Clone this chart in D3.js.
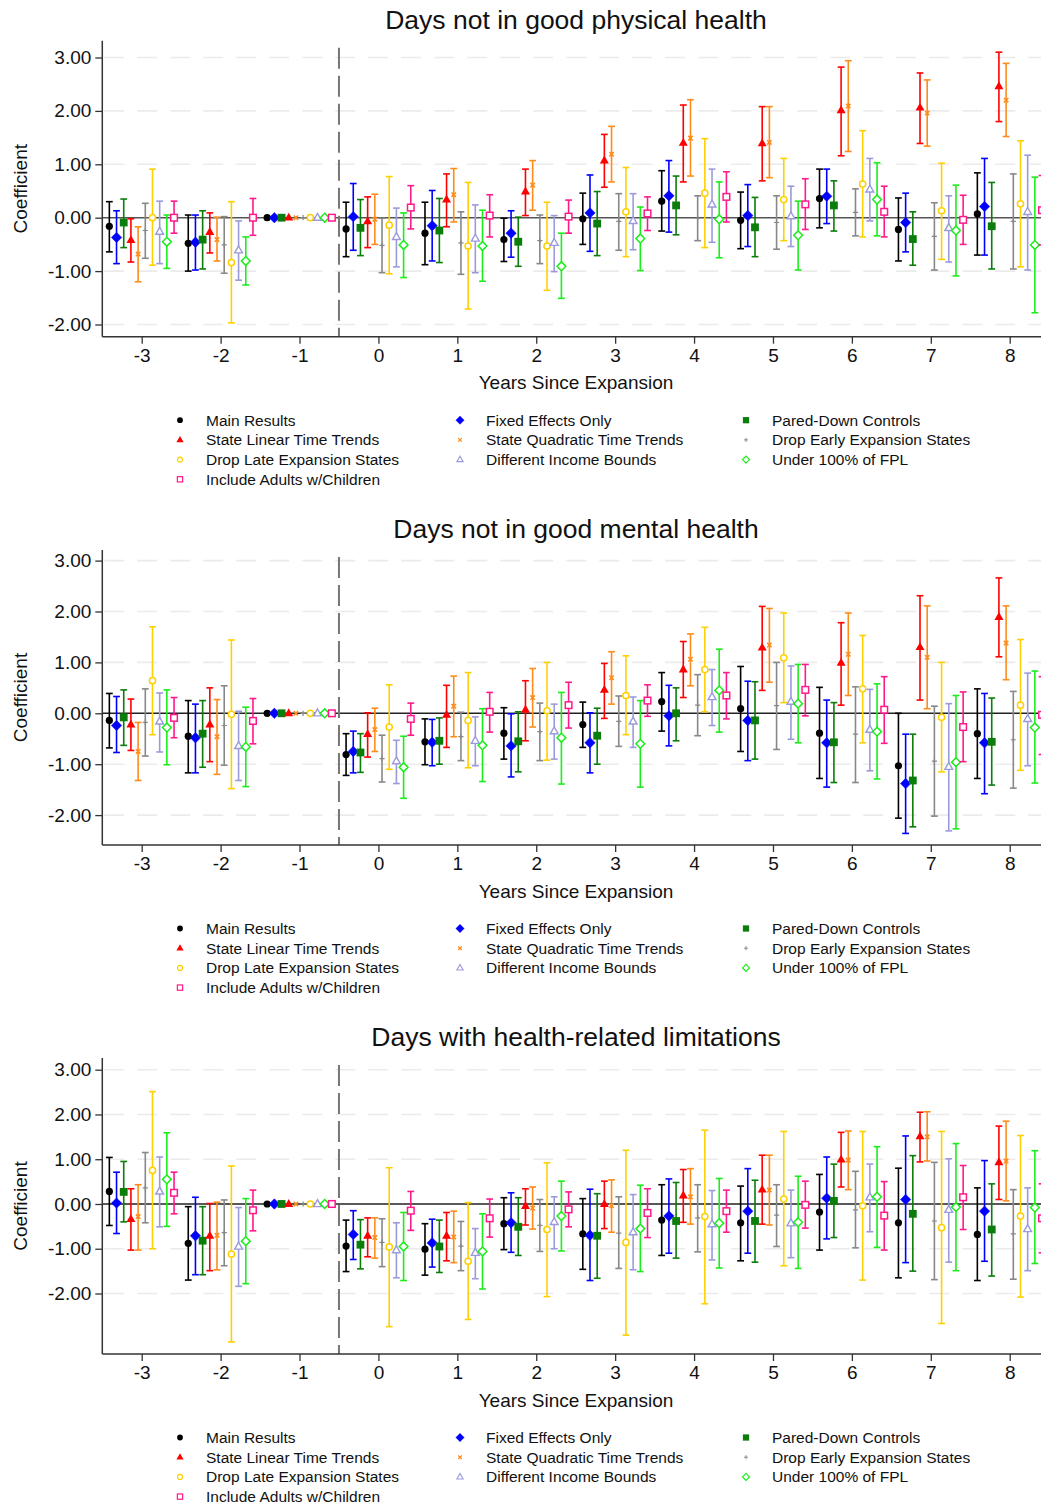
<!DOCTYPE html>
<html>
<head>
<meta charset="utf-8">
<script src="https://cdn.jsdelivr.net/npm/d3@7"></script>
<style>
  body { margin: 0; background: #fff; }
  text { font-family: "Liberation Sans", Arial, Helvetica, sans-serif; fill: #111; }
</style>
</head>
<body>
<div id="chart"></div>
<script>
// event-study coefficients, one row per specification, one column per year
const years = [-3, -2, -1, 0, 1, 2, 3, 4, 5, 6, 7, 8];
const yTicks = [-2, -1, 0, 1, 2, 3];
const panelTitles = ["Days not in good physical health", "Days not in good mental health", "Days with health-related limitations"];
const seriesNames = ["Main Results", "Fixed Effects Only", "Pared-Down Controls",
  "State Linear Time Trends", "State Quadratic Time Trends", "Drop Early Expansion States",
  "Drop Late Expansion States", "Different Income Bounds", "Under 100% of FPL",
  "Include Adults w/Children"];
const seriesColors = ["#000000", "#0000ff", "#0a7d0a", "#ff0000", "#ff8c1a", "#888888",
  "#ffd000", "#9b9bdb", "#1aee1a", "#ff1a8c"];

const physEst = [
  [-0.16, -0.48, 0, -0.21, -0.29, -0.41, -0.02, 0.31, -0.05, 0.36, -0.22, 0.07],
  [-0.37, -0.46, 0, 0.02, -0.15, -0.29, 0.09, 0.41, 0.04, 0.40, -0.09, 0.21],
  [-0.09, -0.41, 0, -0.19, -0.24, -0.45, -0.11, 0.23, -0.18, 0.23, -0.40, -0.16],
  [-0.42, -0.27, 0, -0.07, 0.34, 0.49, 1.07, 1.40, 1.39, 2.01, 2.06, 2.46],
  [-0.68, -0.41, 0, -0.03, 0.43, 0.61, 1.19, 1.49, 1.41, 2.09, 1.96, 2.20],
  [-0.24, -0.51, 0, -0.52, -0.47, -0.43, -0.07, -0.01, -0.09, 0.10, -0.35, -0.07],
  [0.00, -0.84, 0, -0.14, -0.53, -0.53, 0.11, 0.46, 0.34, 0.63, 0.13, 0.26],
  [-0.26, -0.61, 0, -0.36, -0.39, -0.47, -0.06, 0.25, 0.03, 0.53, -0.19, 0.11],
  [-0.45, -0.81, 0, -0.51, -0.53, -0.91, -0.39, -0.03, -0.33, 0.34, -0.24, -0.51],
  [0.00, 0.00, 0, 0.19, 0.04, 0.02, 0.08, 0.39, 0.25, 0.11, -0.04, 0.14]
];
const physHi = [
  [0.30, 0.05, 0, 0.29, 0.29, -0.01, 0.46, 0.88, 0.48, 0.91, 0.37, 0.84],
  [0.13, 0.05, 0, 0.64, 0.51, 0.13, 0.80, 1.07, 0.62, 0.91, 0.46, 1.11],
  [0.35, 0.13, 0, 0.34, 0.36, 0.01, 0.49, 0.78, 0.38, 0.69, 0.11, 0.66],
  [-0.02, 0.09, 0, 0.39, 0.82, 0.91, 1.56, 2.11, 2.08, 2.82, 2.71, 3.10],
  [-0.17, 0.01, 0, 0.44, 0.92, 1.07, 1.71, 2.21, 2.08, 2.94, 2.58, 2.89],
  [0.27, 0.02, 0, -0.01, 0.11, 0.05, 0.45, 0.41, 0.41, 0.54, 0.28, 0.82],
  [0.91, 0.30, 0, 0.77, 0.66, 0.29, 0.94, 1.48, 1.11, 1.63, 1.02, 1.44],
  [0.31, -0.06, 0, 0.18, 0.24, 0.04, 0.45, 0.91, 0.59, 1.11, 0.41, 1.17],
  [0.05, -0.36, 0, 0.09, 0.14, -0.29, 0.20, 0.67, 0.31, 1.03, 0.61, 0.76],
  [0.31, 0.36, 0, 0.60, 0.43, 0.33, 0.39, 0.86, 0.73, 0.59, 0.42, 0.79]
];
const physLo = [
  [-0.64, -1.00, 0, -0.73, -0.88, -0.82, -0.50, -0.25, -0.58, -0.19, -0.81, -0.70],
  [-0.86, -0.98, 0, -0.61, -0.81, -0.74, -0.63, -0.27, -0.54, -0.11, -0.64, -0.70],
  [-0.56, -0.96, 0, -0.71, -0.84, -0.91, -0.71, -0.32, -0.73, -0.25, -0.89, -0.96],
  [-0.83, -0.66, 0, -0.56, -0.17, 0.04, 0.57, 0.67, 0.69, 1.16, 1.39, 1.80],
  [-1.20, -0.81, 0, -0.50, -0.08, 0.14, 0.67, 0.78, 0.75, 1.24, 1.34, 1.52],
  [-0.76, -1.04, 0, -1.03, -1.06, -0.86, -0.61, -0.43, -0.59, -0.34, -0.98, -0.96],
  [-0.89, -1.97, 0, -1.05, -1.71, -1.36, -0.73, -0.56, -0.43, -0.36, -0.78, -0.92],
  [-0.86, -1.17, 0, -0.92, -1.03, -1.01, -0.60, -0.46, -0.54, -0.06, -0.83, -0.98],
  [-0.95, -1.26, 0, -1.12, -1.19, -1.51, -0.99, -0.75, -0.98, -0.34, -1.09, -1.78],
  [-0.29, -0.33, 0, -0.21, -0.36, -0.29, -0.24, -0.08, -0.22, -0.36, -0.50, -0.51]
];

const mentEst = [
  [-0.14, -0.45, 0, -0.81, -0.56, -0.39, -0.22, 0.23, 0.09, -0.39, -1.03, -0.40],
  [-0.24, -0.48, 0, -0.75, -0.57, -0.64, -0.58, -0.05, -0.14, -0.58, -1.38, -0.58],
  [-0.08, -0.40, 0, -0.77, -0.54, -0.55, -0.44, 0.00, -0.14, -0.57, -1.32, -0.56],
  [-0.22, -0.22, 0, -0.41, -0.03, 0.07, 0.46, 0.86, 1.29, 0.99, 1.30, 1.89],
  [-0.75, -0.46, 0, -0.32, 0.14, 0.31, 0.70, 1.06, 1.34, 1.16, 1.10, 1.38],
  [-0.18, -0.24, 0, -0.89, -0.46, -0.36, -0.16, 0.16, 0.15, -0.41, -0.94, -0.52],
  [0.64, -0.02, 0, -0.27, -0.14, 0.05, 0.35, 0.86, 1.09, 0.48, -0.08, 0.16],
  [-0.16, -0.64, 0, -0.94, -0.54, -0.35, -0.16, 0.32, 0.23, -0.32, -1.05, -0.11],
  [-0.28, -0.66, 0, -1.06, -0.63, -0.48, -0.60, 0.45, 0.19, -0.36, -0.96, -0.28],
  [-0.09, -0.15, 0, -0.11, 0.03, 0.16, 0.25, 0.35, 0.46, 0.07, -0.27, -0.03]
];
const mentHi = [
  [0.39, 0.25, 0, -0.40, -0.11, 0.11, 0.22, 0.80, 0.92, 0.51, 0.00, 0.48],
  [0.33, 0.18, 0, -0.35, -0.12, -0.01, 0.01, 0.55, 0.63, 0.26, -0.41, 0.39],
  [0.46, 0.25, 0, -0.40, -0.09, 0.03, 0.10, 0.50, 0.62, 0.21, -0.41, 0.30],
  [0.28, 0.50, 0, 0.01, 0.55, 0.64, 0.98, 1.41, 2.10, 1.78, 2.31, 2.66],
  [-0.18, 0.27, 0, 0.10, 0.73, 0.88, 1.21, 1.56, 2.06, 1.97, 2.11, 2.11],
  [0.48, 0.54, 0, -0.43, 0.02, 0.20, 0.34, 0.76, 1.00, 0.52, 0.14, 0.43],
  [1.70, 1.44, 0, 0.56, 0.80, 1.00, 1.13, 1.69, 1.97, 1.53, 1.00, 1.45],
  [0.40, 0.04, 0, -0.53, -0.07, 0.18, 0.32, 0.86, 0.93, 0.47, 0.19, 0.79],
  [0.46, 0.12, 0, -0.45, 0.09, 0.41, 0.25, 1.26, 0.96, 0.58, 0.35, 0.83],
  [0.31, 0.29, 0, 0.20, 0.41, 0.61, 0.56, 0.80, 0.96, 0.72, 0.42, 0.72]
];
const mentLo = [
  [-0.68, -1.17, 0, -1.22, -1.01, -0.90, -0.67, -0.35, -0.75, -1.28, -2.06, -1.28],
  [-0.77, -1.17, 0, -1.17, -1.03, -1.25, -1.17, -0.64, -0.93, -1.45, -2.36, -1.58],
  [-0.63, -1.06, 0, -1.16, -1.00, -1.15, -1.00, -0.54, -0.90, -1.36, -2.23, -1.41],
  [-0.73, -0.95, 0, -0.86, -0.67, -0.54, -0.10, 0.31, 0.45, 0.16, 0.26, 1.11],
  [-1.32, -1.20, 0, -0.75, -0.46, -0.27, 0.18, 0.54, 0.61, 0.35, 0.09, 0.66],
  [-0.84, -1.02, 0, -1.35, -0.93, -0.93, -0.65, -0.44, -0.71, -1.36, -2.02, -1.47],
  [-0.42, -1.48, 0, -1.10, -1.07, -0.92, -0.42, 0.03, 0.21, -0.58, -1.15, -1.12],
  [-0.76, -1.32, 0, -1.38, -1.03, -0.90, -0.67, -0.24, -0.51, -1.13, -2.31, -1.03],
  [-1.01, -1.44, 0, -1.67, -1.34, -1.39, -1.45, -0.37, -0.58, -1.29, -2.27, -1.37],
  [-0.48, -0.60, 0, -0.43, -0.37, -0.29, -0.06, -0.11, -0.05, -0.59, -0.95, -0.81]
];

const limEst = [
  [0.28, -0.88, 0, -0.94, -1.01, -0.44, -0.67, -0.36, -0.42, -0.18, -0.42, -0.68],
  [0.02, -0.71, 0, -0.68, -0.87, -0.42, -0.70, -0.27, -0.16, 0.13, 0.10, -0.16],
  [0.27, -0.82, 0, -0.91, -0.95, -0.51, -0.71, -0.38, -0.38, 0.07, -0.22, -0.57],
  [-0.34, -0.71, 0, -0.71, -0.71, -0.05, 0.00, 0.19, 0.32, 0.99, 1.51, 0.93],
  [-0.28, -0.70, 0, -0.75, -0.74, -0.09, -0.04, 0.16, 0.31, 0.98, 1.50, 0.96],
  [0.36, -0.64, 0, -0.86, -0.94, -0.48, -0.65, -0.31, -0.25, -0.13, -0.38, -0.67],
  [0.75, -1.12, 0, -0.96, -1.28, -0.57, -0.86, -0.28, 0.11, -0.04, -0.53, -0.27],
  [0.28, -0.95, 0, -1.03, -1.09, -0.40, -0.63, -0.45, -0.43, 0.15, -0.13, -0.56],
  [0.55, -0.83, 0, -0.95, -1.06, -0.27, -0.55, -0.43, -0.41, 0.16, -0.07, -0.08],
  [0.25, -0.14, 0, -0.15, -0.32, -0.12, -0.20, -0.16, -0.02, -0.26, 0.15, -0.32]
];
const limHi = [
  [1.04, -0.06, 0, -0.36, -0.44, 0.14, 0.12, 0.43, 0.40, 0.66, 0.80, 0.36],
  [0.71, 0.15, 0, -0.15, -0.34, 0.25, 0.33, 0.56, 0.79, 1.05, 1.52, 0.97],
  [0.95, -0.06, 0, -0.35, -0.36, 0.14, 0.23, 0.48, 0.53, 0.89, 1.08, 0.45],
  [0.34, 0.01, 0, -0.31, -0.19, 0.34, 0.51, 0.77, 1.09, 1.60, 2.05, 1.74],
  [0.43, 0.04, 0, -0.31, -0.16, 0.38, 0.54, 0.79, 1.09, 1.63, 2.06, 1.85],
  [1.15, 0.09, 0, -0.33, -0.39, 0.10, 0.16, 0.43, 0.43, 0.73, 0.93, 0.32],
  [2.51, 0.85, 0, 0.81, 0.03, 0.92, 1.20, 1.65, 1.62, 1.62, 1.62, 1.53],
  [1.05, -0.08, 0, -0.42, -0.55, 0.16, 0.21, 0.30, 0.31, 0.89, 1.01, 0.36],
  [1.59, 0.12, 0, -0.19, -0.22, 0.51, 0.42, 0.57, 0.62, 1.28, 1.35, 1.19],
  [0.71, 0.31, 0, 0.28, 0.11, 0.27, 0.34, 0.31, 0.51, 0.50, 0.86, 0.45]
];
const limLo = [
  [-0.48, -1.70, 0, -1.51, -1.59, -1.02, -1.46, -1.15, -1.27, -1.03, -1.65, -1.71],
  [-0.66, -1.58, 0, -1.24, -1.41, -1.08, -1.71, -1.10, -1.10, -0.78, -1.31, -1.28],
  [-0.40, -1.58, 0, -1.45, -1.53, -1.15, -1.66, -1.21, -1.30, -0.75, -1.50, -1.61],
  [-1.03, -1.49, 0, -1.18, -1.27, -0.47, -0.55, -0.41, -0.45, 0.38, 0.94, 0.10],
  [-1.03, -1.47, 0, -1.21, -1.31, -0.56, -0.63, -0.45, -0.47, 0.32, 0.96, 0.07],
  [-0.42, -1.38, 0, -1.40, -1.49, -1.06, -1.44, -1.07, -0.95, -0.98, -1.69, -1.68],
  [-1.00, -3.08, 0, -2.74, -2.58, -2.07, -2.93, -2.23, -1.38, -1.70, -2.67, -2.08],
  [-0.51, -1.84, 0, -1.65, -1.67, -1.00, -1.47, -1.25, -1.20, -0.62, -1.30, -1.49],
  [-0.50, -1.78, 0, -1.71, -1.90, -1.05, -1.51, -1.43, -1.44, -0.97, -1.49, -1.33],
  [-0.22, -0.60, 0, -0.59, -0.74, -0.51, -0.75, -0.63, -0.54, -1.03, -0.57, -1.09]
];

const width = 1041, height = 1507;
const markerKinds = ["dot", "diamondF", "squareF", "triF", "cross", "plus", "circleO", "triO", "diamondO", "squareO"];

const panels = [
  { title: panelTitles[0], est: physEst, lo: physLo, hi: physHi, top: 40.7, bottom: 336.7, yLow: 324.5, yHigh: 57.5, zeroCol: "#555" },
  { title: panelTitles[1], est: mentEst, lo: mentLo, hi: mentHi, top: 550, bottom: 845, yLow: 815.1, yHigh: 560.6, zeroCol: "#222" },
  { title: panelTitles[2], est: limEst, lo: limLo, hi: limHi, top: 1058, bottom: 1354, yLow: 1293.5, yHigh: 1069.7, zeroCol: "#222" }
];

const svg = d3.select("#chart").append("svg")
  .attr("width", width)
  .attr("height", height)
  .style("display", "block");

const x = d3.scaleLinear().domain([-3, 8]).range([141.7, 1009.7]);
const offset = d3.scalePoint().domain(d3.range(seriesNames.length)).range([-0.41, 0.41]);
const left = 102.3, right = width;

function drawMarker(g, kind, color, cx, cy, k) {
  const s = k || 1;
  const m = g.append("g").attr("transform", "translate(" + cx + "," + cy + ") scale(" + s + ")");
  if (kind == "dot") {
    m.append("circle").attr("r", 3.6).attr("fill", color);
  } else if (kind == "diamondF" || kind == "diamondO") {
    const r = kind == "diamondF" ? 5.2 : 4.4;
    m.append("path").attr("d", `M0,${-r}L${r},0L0,${r}L${-r},0Z`)
      .attr("fill", kind == "diamondF" ? color : "#fff")
      .attr("stroke", color).attr("stroke-width", kind == "diamondF" ? 0.5 : 1.5);
  } else if (kind == "squareF") {
    m.append("rect").attr("x", -3.9).attr("y", -3.9).attr("width", 7.8).attr("height", 7.8).attr("fill", color);
  } else if (kind == "squareO") {
    m.append("rect").attr("x", -3.3).attr("y", -3.3).attr("width", 6.6).attr("height", 6.6)
      .attr("fill", "#fff").attr("stroke", color).attr("stroke-width", 1.5);
  } else if (kind == "triF") {
    m.append("path").attr("d", "M0,-5L4.5,2.9L-4.5,2.9Z").attr("fill", color);
  } else if (kind == "triO") {
    m.append("path").attr("d", "M0,-4.3L3.9,2.6L-3.9,2.6Z")
      .attr("fill", "#fff").attr("stroke", color).attr("stroke-width", 1.4);
  } else if (kind == "cross") {
    m.append("path").attr("d", "M-2.2,-2.2L2.2,2.2M-2.2,2.2L2.2,-2.2")
      .attr("stroke", color).attr("stroke-width", 1.6);
  } else if (kind == "plus") {
    m.append("path").attr("d", "M-2.6,0L2.6,0M0,-2.6L0,2.6")
      .attr("stroke", color).attr("stroke-width", 1.2);
  } else if (kind == "circleO") {
    m.append("circle").attr("r", 3.1).attr("fill", "#fff").attr("stroke", color).attr("stroke-width", 1.5);
  }
}

panels.forEach(function (p) {
  const y = d3.scaleLinear().domain([-2, 3]).range([p.yLow, p.yHigh]);
  const g = svg.append("g");

  // title
  g.append("text")
    .attr("x", 576).attr("y", p.top - 21).attr("dy", "0.35em")
    .attr("text-anchor", "middle").style("font-size", "26.5px")
    .text(p.title);

  // grid
  g.selectAll(".grid").data(yTicks.filter(d => d != 0)).enter()
    .append("line")
    .attr("x1", left + 2).attr("x2", right)
    .attr("y1", d => y(d)).attr("y2", d => y(d))
    .attr("stroke", "#ebebeb").attr("stroke-width", 1.6)
    .attr("stroke-dasharray", "20,13");

  // zero line
  g.append("line")
    .attr("x1", left).attr("x2", right)
    .attr("y1", y(0)).attr("y2", y(0))
    .attr("stroke", p.zeroCol).attr("stroke-width", 1.4);

  // expansion divider
  g.append("line")
    .attr("x1", x(-0.5)).attr("x2", x(-0.5))
    .attr("y1", p.top + 7).attr("y2", p.bottom)
    .attr("stroke", "#777").attr("stroke-width", 2)
    .attr("stroke-dasharray", "21,7");

  // axes
  const yAxis = d3.axisLeft(y).tickValues(yTicks).tickFormat(d => d.toFixed(2)).tickSize(7).tickPadding(4);
  const ya = g.append("g").attr("transform", "translate(" + left + ",0)").call(yAxis);
  ya.select(".domain").remove();
  ya.selectAll("line").attr("stroke", "#333").attr("stroke-width", 1.3);
  ya.selectAll("text").style("font-size", "19px").attr("fill", "#111");
  g.append("line").attr("x1", left).attr("x2", left).attr("y1", p.top).attr("y2", p.bottom)
    .attr("stroke", "#333").attr("stroke-width", 1.5);

  const xAxis = d3.axisBottom(x).tickValues(years).tickFormat(d => String(d)).tickSize(7).tickPadding(5);
  const xa = g.append("g").attr("transform", "translate(0," + p.bottom + ")").call(xAxis);
  xa.select(".domain").remove();
  xa.selectAll("line").attr("stroke", "#333").attr("stroke-width", 1.3);
  xa.selectAll("text").style("font-size", "19px").attr("fill", "#111");
  g.append("line").attr("x1", left).attr("x2", right).attr("y1", p.bottom).attr("y2", p.bottom)
    .attr("stroke", "#333").attr("stroke-width", 1.5);

  g.append("text")
    .attr("x", 576).attr("y", p.bottom + 46).attr("dy", "0.35em")
    .attr("text-anchor", "middle").style("font-size", "19px")
    .text("Years Since Expansion");

  g.append("text")
    .attr("transform", "translate(20," + ((p.top + p.bottom) / 2) + ") rotate(-90)")
    .attr("dy", "0.35em").attr("text-anchor", "middle").style("font-size", "19px")
    .text("Coefficient");

  // error bars and markers
  seriesNames.forEach(function (name, i) {
    const col = seriesColors[i];
    const sg = g.append("g").attr("class", "series");
    years.forEach(function (yr, j) {
      const cx = x(yr + offset(i));
      const lo = p.lo[i][j], hi = p.hi[i][j];
      if (hi != lo) {
        sg.append("line").attr("x1", cx).attr("x2", cx).attr("y1", y(lo)).attr("y2", y(hi))
          .attr("stroke", col).attr("stroke-width", 1.6);
        [lo, hi].forEach(function (v) {
          sg.append("line").attr("x1", cx - 3.4).attr("x2", cx + 3.4).attr("y1", y(v)).attr("y2", y(v))
            .attr("stroke", col).attr("stroke-width", 1.6);
        });
      }
      drawMarker(sg, markerKinds[i], col, cx, y(p.est[i][j]), 1);
    });
  });

  // legend
  const legX = [180, 460, 746];
  seriesNames.forEach(function (name, i) {
    const row = Math.floor(i / 3), c = i % 3;
    const ly = p.bottom + 83.5 + row * 19.7;
    drawMarker(g, markerKinds[i], seriesColors[i], legX[c], ly, 0.8);
    g.append("text")
      .attr("x", legX[c] + 26).attr("y", ly).attr("dy", "0.35em")
      .style("font-size", "15.5px")
      .text(name);
  });
});
</script>
</body>
</html>
